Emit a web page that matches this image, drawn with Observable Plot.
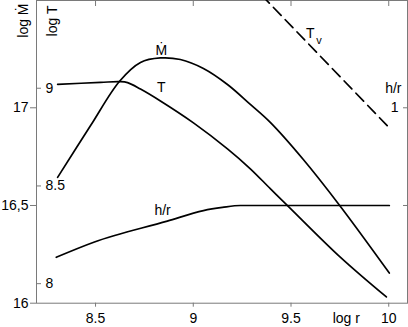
<!DOCTYPE html>
<html>
<head>
<meta charset="utf-8">
<script src="https://cdn.jsdelivr.net/npm/d3@7"></script>
<script src="https://cdn.jsdelivr.net/npm/@observablehq/plot@0.6"></script>
<style>
  html, body { margin: 0; padding: 0; background: #fff; }
  #chart { width: 408px; height: 327px; overflow: hidden; }
</style>
</head>
<body>
<div id="chart"></div>
<script>
// ---- ticks / labels ----
const xTicks = [8.5, 9, 9.5, 10];
const xTickLabels = ["8.5", "9", "9.5", "10"];
const mdotTicks = [16, 16.5, 17];
const mdotTickLabels = ["16", "16,5", "17"];
const tTicks = [8, 8.5, 9];
const tTickLabels = ["8", "8.5", "9"];
const hrTicks = [0.5, 1];
const hrTickLabels = ["", "1"];

// ---- series ----
const logR_M = [8.306, 8.474, 8.623, 8.730, 8.832, 8.934, 9.052, 9.175, 9.292, 9.394, 9.563, 9.752, 10.003];
const logMdot = [16.644, 16.908, 17.136, 17.232, 17.255, 17.247, 17.201, 17.119, 17.017, 16.925, 16.735, 16.496, 16.154];

const logR_T = [8.306, 8.526, 8.623, 8.664, 8.730, 8.832, 9.001, 9.175, 9.292, 9.394, 9.486, 9.752, 9.988];
const logT = [9.020, 9.030, 9.034, 9.029, 8.996, 8.935, 8.823, 8.690, 8.588, 8.486, 8.396, 8.136, 7.932];

const logR_Tv = [9.35, 10.003];
const logTv = [9.476, 8.797];

const logR_hr = [8.299, 8.491, 8.867, 9.052, 9.149, 9.241, 10.003];
const hr = [0.235, 0.312, 0.420, 0.474, 0.490, 0.500, 0.500];

// secondary axes expressed on the primary (log Mdot) scale
const tToM = t => t + 8.1;
const hrToM = h => 16 + h;

const GRAY = "#7a7a7a";
const FONT = "'Liberation Sans', Arial, Helvetica, sans-serif";

const chart = Plot.plot({
  width: 408,
  height: 327,
  marginLeft: 36,
  marginRight: 1,
  marginTop: 0,
  marginBottom: 24.3,
  x: {domain: [8.198, 10.096]},
  y: {domain: [16, 17.549]},
  style: {fontFamily: FONT, fontSize: "14px", background: "white", color: "black"},
  marks: [
    Plot.frame({stroke: GRAY}),
    Plot.axisX(xTicks, {anchor: "bottom", tickSize: 4, tickPadding: 6, stroke: GRAY, fill: "black",
      tickFormat: d => xTickLabels[xTicks.indexOf(d)], label: null, fontSize: 14}),
    Plot.axisX(xTicks, {anchor: "top", tickSize: -5, stroke: GRAY, tickFormat: () => "", label: null}),
    Plot.axisY(mdotTicks, {anchor: "left", tickSize: 6, tickPadding: 2, stroke: GRAY, fill: "black",
      tickFormat: d => mdotTickLabels[mdotTicks.indexOf(d)], label: null, fontSize: 14}),
    Plot.axisY(tTicks.map(tToM), {anchor: "left", tickSize: -5, stroke: GRAY, tickFormat: () => "", label: null}),
    Plot.text(tTicks, {y: d => tToM(d), text: (d, i) => tTickLabels[i], frameAnchor: "left", dx: 9,
      textAnchor: "start", fontSize: 14, fill: "black"}),
    Plot.axisY(hrTicks.map(hrToM), {anchor: "right", tickSize: -5, stroke: GRAY, tickFormat: () => "", label: null}),
    Plot.text(hrTicks, {y: d => hrToM(d), text: (d, i) => hrTickLabels[i], frameAnchor: "right", dx: -9,
      textAnchor: "end", fontSize: 14, fill: "black"}),

    // curves
    Plot.line(logR_M, {x: logR_M, y: logMdot, curve: "catmull-rom", stroke: "black", strokeWidth: 1.7}),
    Plot.line(logR_T, {x: logR_T, y: logT.map(tToM), curve: "catmull-rom", stroke: "black", strokeWidth: 1.7}),
    Plot.line(logR_hr, {x: logR_hr, y: hr.map(hrToM), curve: "monotone-x", stroke: "black", strokeWidth: 1.7}),
    Plot.line(logR_Tv, {x: logR_Tv, y: logTv.map(tToM), stroke: "black", strokeWidth: 1.7,
      strokeDasharray: "11,6", clip: true}),

    // in-plot labels
    Plot.text(["Ṁ"], {x: 8.837, y: 17.293, text: d => d, fontSize: 14, fill: "black"}),
    Plot.text(["T"], {x: 8.837, y: 17.103, text: d => d, fontSize: 14, fill: "black"}),
    Plot.text(["h/r"], {x: 8.843, y: 16.472, text: d => d, fontSize: 14, fill: "black"}),
    Plot.text(["T"], {x: 9.599, y: 17.379, text: d => d, fontSize: 14, fill: "black"}),
    Plot.text(["v"], {x: 9.643, y: 17.344, text: d => d, fontSize: 11, fill: "black"}),
    Plot.text(["h/r"], {y: 17.101, text: d => d, frameAnchor: "right", dx: -6, textAnchor: "end", fontSize: 14, fill: "black"}),

    // axis titles
    Plot.text(["log Ṁ"], {text: d => d, frameAnchor: "top-left", dx: -13, dy: 3, rotate: -90,
      textAnchor: "end", lineAnchor: "middle", fontSize: 14, fill: "black"}),
    Plot.text(["log T"], {text: d => d, frameAnchor: "top-left", dx: 16.5, dy: 5, rotate: -90,
      textAnchor: "end", lineAnchor: "middle", fontSize: 14, fill: "black"}),
    Plot.text(["log r"], {x: 9.783, text: d => d, frameAnchor: "bottom", dy: 10, lineAnchor: "top",
      fontSize: 14, fill: "black"})
  ]
});
document.getElementById("chart").appendChild(chart);
</script>
</body>
</html>
